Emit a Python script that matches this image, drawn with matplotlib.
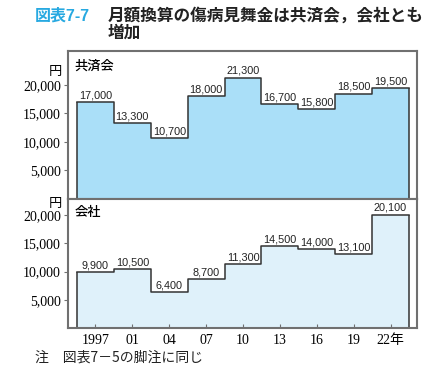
import numpy as np
import matplotlib
matplotlib.use('Agg')
import matplotlib.pyplot as plt

plt.rcParams['font.family'] = ['Liberation Serif', 'Noto Sans CJK JP']

# data
years = ['1997', '01', '04', '07', '10', '13', '16', '19', '22年']
kyosai = [17000, 13300, 10700, 18000, 21300, 16700, 15800, 18500, 19500]
kaisha = [9900, 10500, 6400, 8700, 11300, 14500, 14000, 13100, 20100]
yticks = [5000, 10000, 15000, 20000]

x = np.arange(len(years))
edges = np.append(x - 0.5, x[-1] + 0.5)

fig = plt.figure(figsize=(4.48, 3.75), dpi=100)
ax1 = fig.add_axes([68/448, 1 - 199/375, 349/448, 148/375])
ax2 = fig.add_axes([68/448, 1 - 328/375, 349/448, 129/375])

frame_col = '#707070'
sans = ['Liberation Sans', 'Noto Sans CJK JP']
cjk = ['Noto Sans CJK JP']


def draw_panel(ax, vals, fill, ymax, name):
    v = np.append(vals, vals[-1])
    ax.fill_between(edges, v, step='post', color=fill, lw=0)
    ax.step(edges, v, where='post', color='#333333', lw=1.1)
    ax.vlines([edges[0], edges[-1]], 0, [vals[0], vals[-1]], color='#333333', lw=1.1)
    for xi, val in zip(x, vals):
        ax.text(xi, val + 300, f'{val:,}', ha='center', va='bottom',
                fontsize=7.8, family=sans, color='#222222',
                bbox=dict(facecolor='white', edgecolor='none', pad=0.3))
    ax.set_xlim(-0.744, 8.717)
    ax.set_ylim(0, ymax)
    ax.set_yticks(yticks)
    ax.set_yticklabels([f'{t:,}' for t in yticks], fontsize=10)
    ax.tick_params(axis='y', direction='out', length=3, width=0.8,
                   color=frame_col, pad=2)
    for s in ax.spines.values():
        s.set_color(frame_col)
        s.set_linewidth(1.5)
    ax.text(0.018, 0.95, name, transform=ax.transAxes, fontsize=9.5,
            family=cjk, fontweight='medium', va='top', ha='left')


draw_panel(ax1, kyosai, '#aadff8', 25960, '共済会')
draw_panel(ax2, kaisha, '#dff1fa', 22870, '会社')

ax1.set_xticks([])
ax2.set_xticks(x)
ax2.set_xticklabels(years, fontsize=10)
ax2.tick_params(axis='x', direction='in', length=3, width=0.8, color=frame_col, pad=4)

# units
fig.text(62/448, 1 - 71/375, '円', fontsize=9.5, ha='right', va='center', family=cjk)
fig.text(62/448, 1 - 203/375, '円', fontsize=9.5, ha='right', va='center', family=cjk)

# title
fig.text(35/448, 1 - 16/375, '図表7-7', fontsize=11.5, fontweight='bold',
         color='#27a9e1', family=['Liberation Sans', 'Noto Sans CJK JP'], va='center')
fig.text(108/448, 1 - 16/375, '月額換算の傷病見舞金は共済会，会社とも', fontsize=12,
         fontweight='bold', family=cjk, va='center', color='#222222')
fig.text(108/448, 1 - 33/375, '増加', fontsize=12,
         fontweight='bold', family=cjk, va='center', color='#222222')

# note
fig.text(35/448, 1 - 358/375, '注　図表7－5の脚注に同じ', fontsize=10,
         family=cjk, va='center', color='#222222')

fig.savefig('out.png', dpi=100)
